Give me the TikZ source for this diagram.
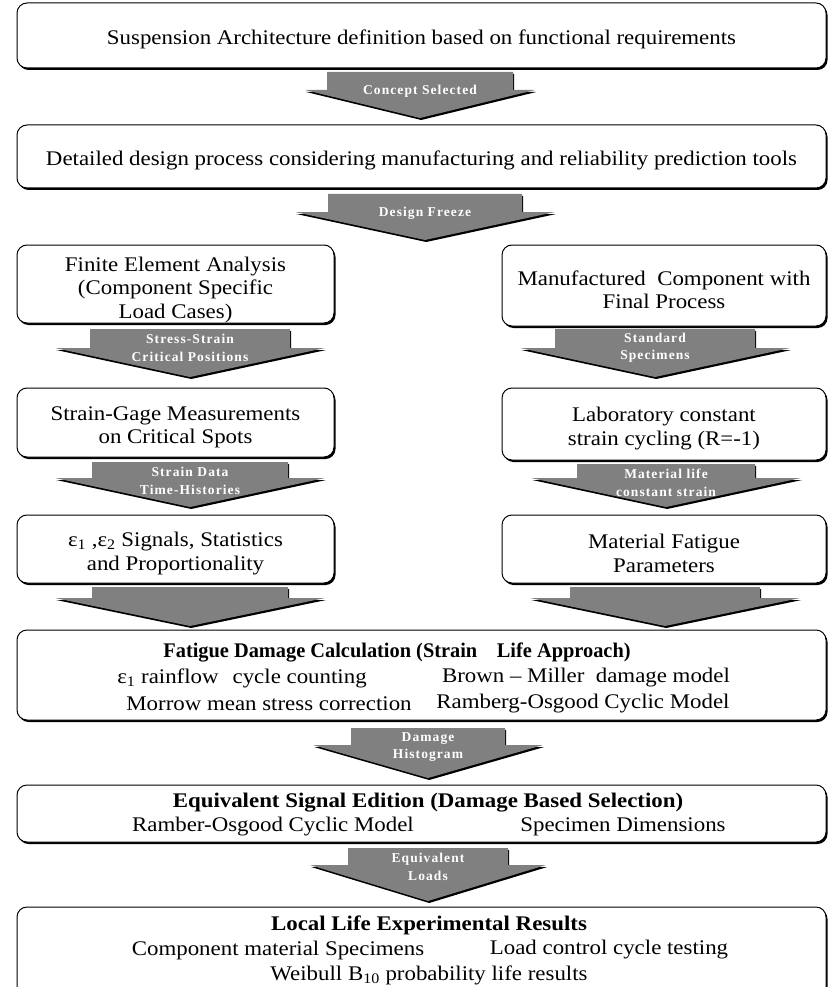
\documentclass[tikz,border=0pt]{standalone}
\usepackage{graphicx}
\usepackage{fontspec}
\setmainfont{Liberation Serif}[FakeStretch=1.1]
\newfontfamily\tagfont{Liberation Serif}[LetterSpace=8]
\usetikzlibrary{shadows}
\definecolor{arrowgray}{RGB}{128,128,128}

\newcommand{\lift}{\rule{0pt}{23pt}}
% name, x, top, shaft half width, head half width, shoulder, tip, label
\newcommand{\FlowArrow}[8]{%
  \fill[flowarrow] (#2-#4,#3) -- (#2+#4,#3) -- (#2+#4,#6) -- (#2+#5,#6)
    -- (#2,#7) -- (#2-#5,#6) -- (#2-#4,#6) -- cycle;
  \node[flowlabel] (#1) at (#2,#3+19) {#8};}

\begin{document}
\begin{tikzpicture}[x=1pt, y=-1pt,
    stage/.style={draw, line width=1pt, rounded corners=10pt, fill=white, align=center,
      drop shadow={shadow xshift=1.5pt, shadow yshift=-2pt, fill=black, opacity=1},
      font=\fontsize{20.8}{23.5}\selectfont},
    flowarrow/.style={fill=arrowgray,
      drop shadow={shadow xshift=1.2pt, shadow yshift=-2pt, fill=black, opacity=1}},
    flowlabel/.style={text=white, align=center, inner sep=0pt,
      font=\tagfont\bfseries\fontsize{13.5}{17.5}\selectfont},
    entry/.style={inner sep=0pt, font=\fontsize{20.8}{24}\selectfont},
    heading/.style={inner sep=0pt, font=\fontsize{20.8}{24}\selectfont\bfseries}]
  \useasboundingbox (0,0) rectangle (828,987);
  \clip (0,0) rectangle (828,987);

  \node[stage, minimum width=809pt, minimum height=65pt] (arch) at (421.5,35.5)
    {\lift Suspension Architecture definition based on functional requirements};
  \node[stage, minimum width=809pt, minimum height=63pt] (design) at (421.5,156.5)
    {\lift Detailed design process considering manufacturing and reliability prediction tools};
  \node[stage, minimum width=317pt, minimum height=78pt, inner ysep=0pt] (fea) at (175.5,284)
    {\rule{0pt}{26pt}Finite Element Analysis\\(Component Specific\\Load Cases)};
  \node[stage, minimum width=324pt, minimum height=81pt] (manuf) at (664,285.5)
    {\lift Manufactured\ \ Component with\\Final Process};
  \node[stage, minimum width=317pt, minimum height=69pt] (gage) at (175.5,422.5)
    {\lift Strain-Gage Measurements\\on Critical Spots};
  \node[stage, minimum width=324pt, minimum height=72pt] (lab) at (664,424)
    {\lift Laboratory constant\\strain cycling (R=-1)};
  \node[stage, minimum width=317pt, minimum height=68pt] (signals) at (175.5,549)
    {\lift ε\textsubscript{1} ,ε\textsubscript{2} Signals, Statistics\\and Proportionality};
  \node[stage, minimum width=324pt, minimum height=68pt] (matpar) at (664,549)
    {\lift Material Fatigue\\Parameters};
  \node[stage, minimum width=809pt, minimum height=90pt] (damage) at (421.5,675) {};
  \node[stage, minimum width=809pt, minimum height=57pt] (equiv) at (421.5,813.5) {};
  \node[stage, minimum width=809pt, minimum height=103pt] (local) at (421.5,958.5) {};

  \node[heading] (damage-t) at (397,652)
    {\scalebox{0.89}[1]{Fatigue Damage Calculation (Strain\hspace{22pt}Life Approach)}};
  \node[entry] (rainflow) at (242,678) {ε\textsubscript{1} rainflow\hspace{14pt}cycle counting};
  \node[entry] (brown) at (586,678) {Brown -- Miller\ \ damage model};
  \node[entry] (morrow) at (269,704) {Morrow mean stress correction};
  \node[entry] (ramberg) at (583,704) {Ramberg-Osgood Cyclic Model};

  \node[heading] (equiv-t) at (428,803) {Equivalent Signal Edition (Damage Based Selection)};
  \node[entry] (ramber) at (273,827) {Ramber-Osgood Cyclic Model};
  \node[entry] (dims) at (623,827) {Specimen Dimensions};

  \node[heading] (local-t) at (429,925) {Local Life Experimental Results};
  \node[entry] (specimens) at (278,950) {Component material Specimens};
  \node[entry] (loadctrl) at (609,950) {Load control cycle testing};
  \node[entry] (weibull) at (429,975) {Weibull B\textsubscript{10} probability life results};

  \FlowArrow{concept}{420}{72}{93}{115}{90}{118}{Concept Selected}
  \FlowArrow{freeze}{425}{194}{97}{130}{212}{240}{Design Freeze}
  \FlowArrow{stress}{190}{329}{100}{135}{348}{377}{Stress-Strain\\Critical Positions}
  \FlowArrow{standard}{655}{329}{100}{135}{348}{377}{Standard\\Specimens}
  \FlowArrow{history}{190}{462}{98}{135}{478}{507}{Strain Data\\Time-Histories}
  \FlowArrow{matlife}{666}{464}{89}{135}{478}{507}{Material life\\constant strain}
  \FlowArrow{toleft}{190}{587}{98}{135}{598}{626}{}
  \FlowArrow{toright}{665}{587}{95}{135}{598}{626}{}
  \FlowArrow{histogram}{428}{728}{77}{115}{745}{778}{Damage\\Histogram}
  \FlowArrow{loads}{428}{848}{80}{118}{865}{901}{Equivalent\\Loads}
\end{tikzpicture}
\end{document}
